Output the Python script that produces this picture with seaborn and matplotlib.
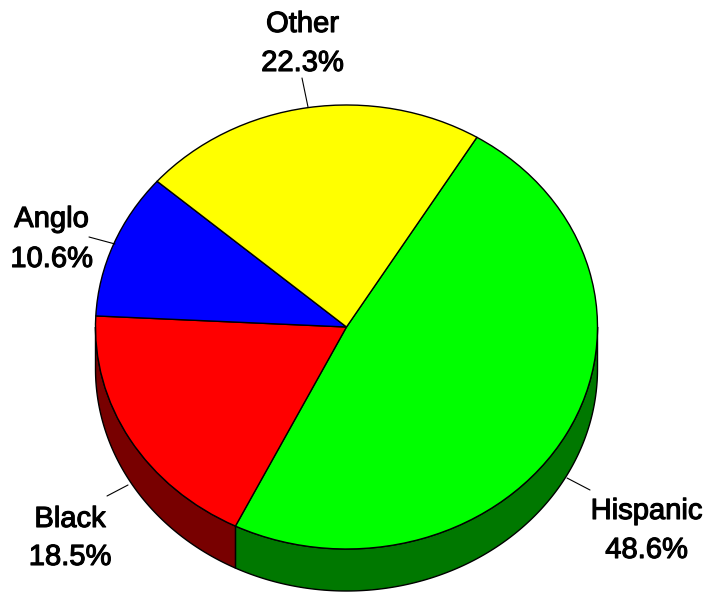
import numpy as np
import matplotlib
matplotlib.use("Agg")
import matplotlib.pyplot as plt
import matplotlib.patheffects as pe
import seaborn as sns

# ---- data ----
categories = ["Hispanic", "Black", "Anglo", "Other"]
shares = [48.6, 18.5, 10.6, 22.3]
labels_pct = ["48.6%", "18.5%", "10.6%", "22.3%"]
top_colors = ["#00FF00", "#FF0000", "#0000FF", "#FFFF00"]
side_colors = ["#007800", "#780000", "#000078", "#787800"]

sns.set_theme(style="white")
plt.rcParams['font.family'] = ['Liberation Sans', 'DejaVu Sans']

W, H = 707, 593
fig = plt.figure(figsize=(W / 100, H / 100), dpi=100)
ax = fig.add_axes([0, 0, 1, 1])

# pixel geometry of the tilted pie
CX, CY, RX, RY, DEPTH = 346.5, 327.0, 251.0, 222.0, 42.0


def px(x, y):
    return (x - CX) / RX, (CY - y) / RY


d = DEPTH / RY
start = 58.7

# side walls (only lower half visible)
ang = start
for val, sc in zip(shares, side_colors):
    a2 = ang
    a1 = ang - val * 3.6
    ang = a1
    lo, hi = a1, a2
    for shift in (-360, 0, 360):
        l, h = lo + shift, hi + shift
        vl, vh = max(l, 180.0), min(h, 360.0)
        if vh > vl:
            t = np.radians(np.linspace(vl, vh, 200))
            xs = np.concatenate([np.cos(t), np.cos(t[::-1])])
            ys = np.concatenate([np.sin(t), np.sin(t[::-1]) - d])
            ax.fill(xs, ys, facecolor=sc, edgecolor="black", linewidth=1.0, zorder=1)

ax.pie(shares, colors=top_colors, startangle=start, counterclock=False,
       radius=1.0, center=(0, 0),
       wedgeprops=dict(edgecolor="black", linewidth=1.0, zorder=2))

ax.set_aspect('auto')
x0, y0 = px(0, H)
x1, y1 = px(W, 0)
ax.set_xlim(x0, x1)
ax.set_ylim(y0, y1)
ax.axis('off')

# labels: (center x, baseline1, baseline2) in pixels, leader (from, to)
label_pos = {
    "Hispanic": (646.5, 519, 558, (590, 490), (567, 478)),
    "Black": (70, 527, 565, (107, 496), (128, 485)),
    "Anglo": (51.5, 227, 267, (89, 237), (115, 244)),
    "Other": (302.5, 32, 71, (302, 78), (308, 107)),
}
fx = dict(fontsize=21, color="black", ha="center", va="baseline",
          path_effects=[pe.withStroke(linewidth=0.8, foreground="black")])
for cat, pct in zip(categories, labels_pct):
    cx, b1, b2, p1, p2 = label_pos[cat]
    ax.text(*px(cx, b1), cat, **fx)
    ax.text(*px(cx, b2), pct, **fx)
    (ax1, ay1), (ax2, ay2) = px(*p1), px(*p2)
    ax.plot([ax1, ax2], [ay1, ay2], color="black", linewidth=0.8, zorder=3)

fig.savefig("out.png", dpi=100)
